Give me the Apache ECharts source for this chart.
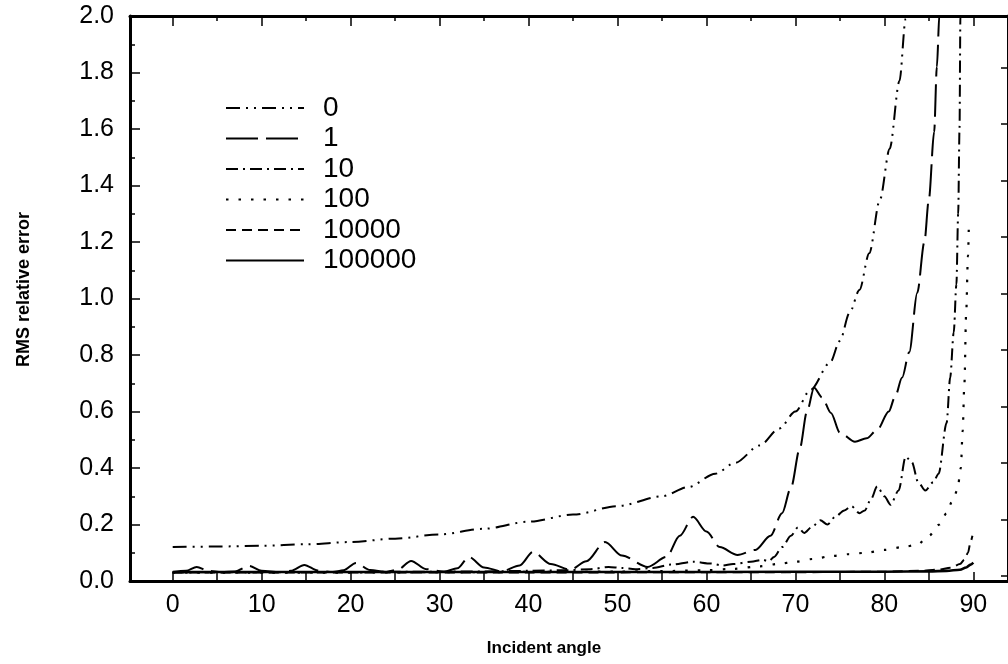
<!DOCTYPE html>
<html><head><meta charset="utf-8">
<script src="https://cdn.jsdelivr.net/npm/echarts@6/dist/echarts.min.js"></script>
<style>html,body{margin:0;padding:0;background:#fff}#c{width:1008px;height:664px}</style>
</head><body><div id="c"></div>
<script>
// ---- data ----
const seriesNames = ['0', '1', '10', '100', '10000', '100000'];
const xLabelValues = [0, 10, 20, 30, 40, 50, 60, 70, 80, 90];
const xMinorTickValues = [0, 5, 10, 15, 20, 25, 30, 35, 40, 45, 50, 55, 60, 65, 70, 75, 80, 85, 90];
const yRightTickValues = [0, 0.2, 0.4, 0.6, 0.8, 1.0, 1.2, 1.4, 1.6, 1.8];

const s0 = [[0,0.12],[5,0.122],[10,0.125],[15,0.13],[20,0.138],[25,0.15],[30,0.165],[35,0.185],[40,0.21],[45,0.235],[50,0.265],[55,0.3],[58,0.333],[61,0.38],[63.2,0.418],[66,0.48],[68.2,0.54],[70,0.6],[71.7,0.677],[73.9,0.773],[75,0.85],[76.1,0.95],[77.2,1.03],[78.3,1.16],[79.5,1.35],[80.6,1.53],[81.7,1.77],[82.4,1.99],[82.8,2.1]];
const s1 = [[0,0.032],[1.5,0.036],[2.7,0.05],[4,0.036],[5.5,0.032],[7,0.034],[8.6,0.053],[10,0.036],[12,0.032],[13.3,0.036],[14.8,0.057],[16.3,0.037],[18,0.032],[19.2,0.038],[20.6,0.064],[22.2,0.039],[24,0.032],[25.3,0.04],[26.8,0.071],[28.5,0.042],[30.5,0.033],[32,0.045],[33.3,0.085],[35,0.048],[37,0.034],[39,0.055],[40.5,0.103],[42.5,0.06],[44.7,0.04],[46.5,0.07],[48.6,0.138],[50.5,0.09],[53.4,0.05],[55.5,0.085],[57,0.16],[58.5,0.227],[60,0.175],[61.5,0.12],[63.5,0.092],[65.5,0.11],[67.2,0.16],[68.5,0.24],[69.5,0.33],[70.5,0.47],[71.3,0.6],[72.1,0.684],[73,0.65],[74,0.595],[75,0.525],[76.7,0.493],[78,0.505],[79.2,0.535],[80.5,0.6],[81.2,0.652],[82,0.72],[82.8,0.81],[83.7,1.02],[84.5,1.2],[85,1.35],[85.6,1.59],[85.9,1.82],[86.2,2.01],[86.4,2.15]];
const s10 = [[0,0.03],[5,0.031],[10,0.031],[15,0.032],[20,0.032],[25,0.033],[30,0.033],[35,0.034],[40,0.036],[44,0.038],[47,0.042],[49,0.05],[50.5,0.046],[52,0.042],[54,0.046],[56,0.058],[58.5,0.068],[60.5,0.062],[61.8,0.055],[63,0.06],[65,0.068],[66.3,0.075],[67,0.07],[67.6,0.085],[68.5,0.12],[69.5,0.16],[70.3,0.19],[71,0.17],[71.8,0.19],[72.8,0.215],[73.6,0.2],[74.5,0.228],[75.5,0.25],[76.3,0.265],[77.2,0.24],[77.8,0.25],[78.5,0.29],[79.2,0.335],[80,0.3],[80.7,0.27],[81.6,0.32],[82.4,0.44],[83.1,0.42],[83.8,0.35],[84.6,0.32],[85.5,0.35],[86.1,0.38],[87,0.56],[87.4,0.72],[87.8,0.88],[88.1,1.05],[88.3,1.3],[88.45,1.6],[88.55,2.0],[88.6,2.1]];
const s100 = [[0,0.03],[10,0.03],[20,0.03],[30,0.031],[40,0.032],[50,0.033],[55,0.035],[60,0.038],[63,0.043],[66,0.052],[68,0.06],[70,0.068],[72,0.078],[74,0.088],[76,0.095],[78,0.1],[80,0.11],[82,0.12],[83.7,0.128],[85,0.16],[86.2,0.2],[87,0.24],[87.6,0.28],[88.2,0.32],[88.6,0.4],[88.8,0.53],[89,0.7],[89.2,0.95],[89.4,1.15],[89.5,1.26]];
const s10000 = [[0,0.03],[20,0.03],[40,0.03],[60,0.031],[70,0.031],[80,0.033],[84,0.036],[86,0.04],[87.5,0.047],[88.5,0.06],[89,0.075],[89.4,0.1],[89.7,0.14],[89.9,0.16]];
const s100000 = [[0,0.032],[20,0.032],[40,0.032],[60,0.032],[80,0.033],[85,0.034],[87,0.036],[88.5,0.04],[89.2,0.048],[89.7,0.058],[90,0.065]];

const seriesData = [s0, s1, s10, s100, s10000, s100000];
const dashes = [[14,6,2,6,2,6],[32,8],[12,5,2,5],[2.5,10],[10,6],'solid'];
const widths = [2, 2, 2, 2.2, 2, 2.6];

const FONT = 'Liberation Sans';
const X_MIN = -4.8, X_MAX = 93.9;

const chart = echarts.init(document.getElementById('c'), null, {renderer: 'canvas'});
const blk = '#000';
const option = {
  animation: false,
  backgroundColor: '#fff',
  textStyle: {fontFamily: FONT, color: blk},
  grid: {left: 130, right: -3.5, top: 16, bottom: 83, containLabel: false},
  legend: {
    orient: 'vertical', left: 220, top: 89,
    itemWidth: 78, itemHeight: 14, itemGap: 2.5,
    itemStyle: {opacity: 0},
    textStyle: {fontSize: 28, color: blk, fontFamily: FONT, lineHeight: 28, padding: [0, 0, 0, 14]},
    data: seriesNames
  },
  xAxis: [
    {type: 'value', min: X_MIN, max: X_MAX, position: 'bottom',
     name: 'Incident angle', nameLocation: 'middle', nameGap: 59,
     nameTextStyle: {fontSize: 17, fontWeight: 'bold', color: blk, fontFamily: FONT, padding: [0, 50, 0, 0]},
     axisLine: {show: true, onZero: false, lineStyle: {color: blk, width: 3}},
     axisTick: {show: false}, splitLine: {show: false},
     axisLabel: {customValues: xLabelValues, margin: 12, fontSize: 25, color: blk, fontFamily: FONT}},
    {type: 'value', min: X_MIN, max: X_MAX, position: 'bottom', offset: -9,
     axisLine: {show: false, onZero: false},
     axisTick: {show: true, customValues: xMinorTickValues, inside: false, length: 10, lineStyle: {color: blk, width: 1.5}},
     axisLabel: {show: false}, splitLine: {show: false}},
    {type: 'value', min: X_MIN, max: X_MAX, position: 'top',
     axisLine: {show: true, onZero: false, lineStyle: {color: blk, width: 3}},
     axisTick: {show: true, customValues: xLabelValues, inside: true, length: 10, lineStyle: {color: blk, width: 1.5}},
     axisLabel: {show: false}, splitLine: {show: false}},
    {type: 'value', min: X_MIN, max: X_MAX, position: 'top',
     axisLine: {show: false, onZero: false},
     axisTick: {show: true, customValues: xMinorTickValues, inside: true, length: 5, lineStyle: {color: blk, width: 1.5}},
     axisLabel: {show: false}, splitLine: {show: false}}
  ],
  yAxis: [
    {type: 'value', min: 0, max: 2, interval: 0.2, position: 'left',
     name: 'RMS relative error', nameLocation: 'middle', nameGap: 97,
     nameTextStyle: {fontSize: 18, fontWeight: 'bold', color: blk, fontFamily: FONT, padding: [0, 0, 0, 18]},
     axisLine: {show: true, onZero: false, lineStyle: {color: blk, width: 3}},
     axisTick: {show: true, inside: true, length: 10, lineStyle: {color: blk, width: 1.5}},
     minorTick: {show: true, splitNumber: 2, length: 5, lineStyle: {color: blk, width: 1.5}},
     splitLine: {show: false},
     axisLabel: {margin: 16, fontSize: 25, color: blk, fontFamily: FONT, formatter: v => v.toFixed(1)}},
    {type: 'value', min: -0.0177, max: 1.9823, position: 'right',
     axisLine: {show: true, onZero: false, lineStyle: {color: blk, width: 3}},
     axisTick: {show: true, customValues: yRightTickValues, inside: true, length: 7, lineStyle: {color: blk, width: 1.5}},
     axisLabel: {show: false}, splitLine: {show: false}}
  ],
  series: seriesNames.map((n, i) => ({
    name: n, type: 'line', xAxisIndex: 0, yAxisIndex: 0,
    data: seriesData[i], symbol: 'none', showSymbol: false,
    smooth: 0.3, smoothMonotone: 'x', clip: true,
    color: blk,
    lineStyle: {color: blk, width: widths[i], type: dashes[i], cap: 'butt'}
  }))
};
chart.setOption(option);
</script></body></html>
